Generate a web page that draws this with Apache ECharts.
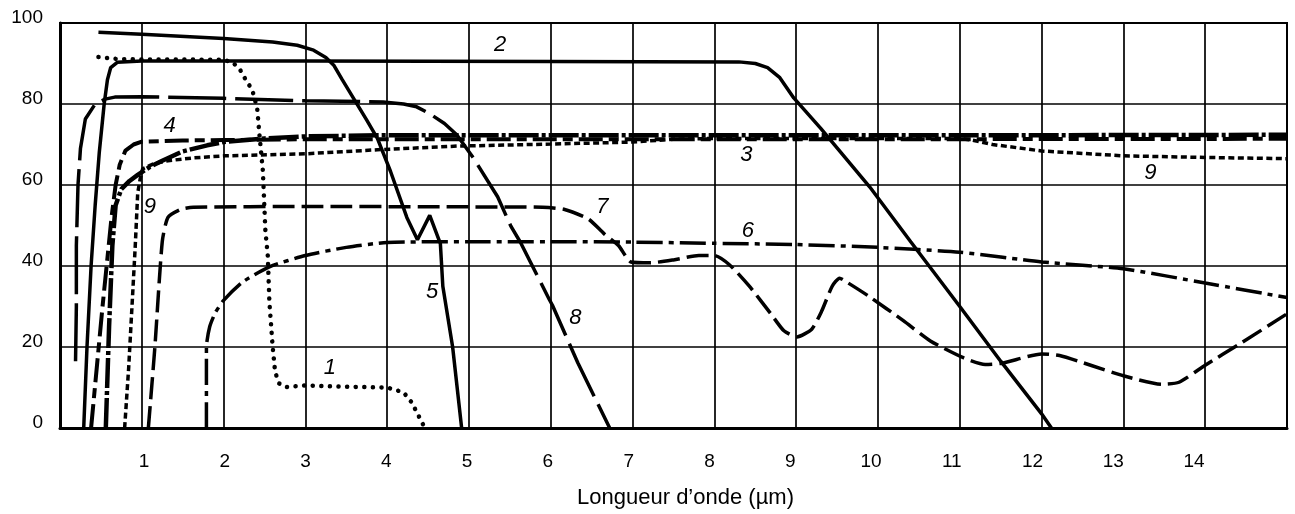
<!DOCTYPE html>
<html>
<head>
<meta charset="utf-8">
<script src="https://cdn.jsdelivr.net/npm/echarts@6/dist/echarts.min.js"></script>
<style>html,body{margin:0;padding:0;background:#fff}#c{width:1295px;height:514px}</style>
</head>
<body>
<div id="c"></div>
<script>
// ---- data ----
const xTickLabels = [1,2,3,4,5,6,7,8,9,10,11,12,13,14];
const axisTitle = 'Longueur d’onde (µm)';

const curve1 = [[0.47,91.6],[0.7,91.1],[1.0,91.0],[1.5,91.0],[2.0,90.9],[2.11,90.3],[2.2,88.5],[2.27,86],[2.35,83.5],[2.41,79],[2.44,72],[2.48,63.5],[2.51,49],[2.54,42.5],[2.56,31],[2.6,20],[2.63,13.8],[2.68,11],[2.76,10.1],[3.0,10.5],[3.5,10.2],[4.0,10.0],[4.2,8.8],[4.3,6.3],[4.46,0]];
const curve2 = [[0.29,0],[0.33,20],[0.38,40],[0.43,55],[0.48,68],[0.54,80],[0.58,86],[0.62,89],[0.7,90.3],[1,90.6],[3,90.6],[6,90.5],[8.3,90.4],[8.5,90],[8.65,89],[8.8,86.5],[8.97,81.5],[9.3,74],[9.9,59.5],[10.4,46],[11.0,30],[11.5,16.5],[12.0,3.5],[12.12,0]];
const curve3 = [[0.56,0],[0.6,25],[0.64,45],[0.68,55],[0.75,59],[0.85,61],[0.95,62.5],[1.1,64.5],[1.25,66],[1.5,68.3],[1.8,69.8],[2.0,70.6],[2.5,71.5],[3,72],[4,72.3],[6,72.3],[8,72.3],[10,72.3],[12,72.3],[15,72.4]];
const curve4 = [[0.38,0],[0.45,15],[0.52,30],[0.58,42],[0.63,52],[0.68,60],[0.73,65],[0.8,68.5],[0.9,70],[1.0,70.7],[1.5,71],[2,71.1],[3,71.3],[4,71.3],[6,71.3],[10,71.3],[15,71.4]];
const curve5 = [[0.47,97.7],[1,97.2],[2,96.2],[2.6,95.3],[2.9,94.5],[3.1,93.3],[3.25,91.5],[3.35,89.5],[3.45,86],[3.6,81],[3.75,76],[3.88,71.5],[4.04,63.4],[4.24,52],[4.37,46.5],[4.52,52.5],[4.65,45.5],[4.68,35],[4.8,20],[4.91,0]];
const curve6 = [[1.79,0],[1.79,20],[1.83,25],[1.9,28.5],[2.0,31.5],[2.23,36],[2.56,39.8],[3.0,42.6],[3.5,44.6],[4,45.8],[5,46],[6,46],[7,45.9],[8,45.6],[9,45.3],[10,44.6],[11,43.4],[12,41],[13,39.3],[14,35.8],[15,32.2]];
const curve7 = [[1.08,0],[1.16,20],[1.25,46],[1.32,52],[1.48,54],[1.63,54.5],[3,54.7],[5,54.6],[5.9,54.5],[6.16,54],[6.46,51.6],[6.65,48],[6.83,45],[6.98,41],[7.22,40.8],[7.5,41.5],[7.81,42.6],[8.0,42.6],[8.19,40.2],[8.44,34.7],[8.69,28.2],[8.85,24],[9.01,22.5],[9.19,24.4],[9.31,28.8],[9.44,35],[9.53,37],[9.62,36],[9.89,32.5],[10.31,26.5],[10.64,21.5],[11.05,17.3],[11.31,15.7],[11.52,16],[12.0,18.3],[12.22,17.9],[12.6,15.5],[13.0,12.9],[13.47,10.8],[13.68,11.3],[14.0,15.5],[14.44,21],[15,28.2]];
const curve8 = [[0.19,16.5],[0.2,30],[0.2,45],[0.22,60],[0.25,69],[0.31,76.3],[0.43,80],[0.55,81.2],[0.67,81.7],[1,81.8],[2,81.4],[3,80.8],[3.95,80.5],[4.2,80],[4.36,79.3],[4.52,77.6],[4.7,75.2],[4.85,72.4],[5.05,66.8],[5.35,57.1],[5.51,49.9],[5.63,45.8],[5.98,31.8],[6.02,30.3],[6.33,16.1],[6.72,0]];
const curve9 = [[0.79,0],[0.84,15],[0.88,30],[0.92,45],[0.95,58],[0.98,61.5],[1.01,64],[1.15,65.3],[1.32,66],[1.64,66.7],[2.02,67.2],[3,67.7],[3.88,68.7],[4.85,69.6],[6,70.1],[7,70.6],[7.5,71.3],[8,71.5],[11,71.5],[11.15,71.1],[11.4,70],[12,68.4],[13,67.2],[14,66.8],[15,66.5]];

const curveTexts = ['1','2','3','4','5','6','7','8','9','9'];
const curveTextAt = [[3.3,14.9],[5.38,94.6],[8.39,67.5],[1.34,74.5],[4.55,33.5],[8.41,48.7],[6.63,54.7],[6.3,27.2],[1.1,54.7],[13.33,63.1]];

// ---- styles ----
const FONT = '"Liberation Sans", Arial, sans-serif';
const curves = [
  {data: curve1, ls: {width: 4.5, type: [0.1, 8.5], cap: 'round'}},
  {data: curve2, ls: {width: 3.5, type: 'solid'}},
  {data: curve3, ls: {width: 4.5, type: [30, 3, 4, 3]}},
  {data: curve4, ls: {width: 4, type: [24, 6, 10, 6]}},
  {data: curve5, ls: {width: 3.5, type: 'solid'}},
  {data: curve6, ls: {width: 3.5, type: [26, 6, 5, 6]}, smooth: 0.2},
  {data: curve7, ls: {width: 3.5, type: [22, 7]}, smooth: 0.2},
  {data: curve8, ls: {width: 3.5, type: [58, 9]}},
  {data: curve9, ls: {width: 3.5, type: [6, 3.5]}}
];

const series = curves.map(c => ({
  type: 'line',
  data: c.data,
  xAxisIndex: 0, yAxisIndex: 0,
  symbol: 'none', showSymbol: false,
  smooth: c.smooth || false,
  silent: true,
  lineStyle: Object.assign({color: '#000'}, c.ls)
}));
series.push({
  type: 'scatter',
  xAxisIndex: 0, yAxisIndex: 0,
  symbolSize: 0,
  silent: true,
  itemStyle: {color: '#000', opacity: 1},
  data: curveTextAt.map((p, i) => ({value: p, name: curveTexts[i]})),
  label: {show: true, position: 'inside', formatter: '{b}', fontSize: 22, fontStyle: 'italic', color: '#000',
          opacity: 1, textBorderWidth: 0, textBorderColor: 'transparent', fontFamily: FONT}
});

const chart = echarts.init(document.getElementById('c'), null, {renderer: 'canvas'});
chart.setOption({
  animation: false,
  backgroundColor: '#fff',
  grid: {left: 60, right: 8, top: 23, bottom: 81, show: true, borderColor: '#000', borderWidth: 2, containLabel: false},
  xAxis: [
    {
      type: 'value', min: 0, max: 15, interval: 1, position: 'bottom',
      axisLine: {show: true, onZero: false, lineStyle: {color: '#000', width: 3}},
      axisTick: {show: false},
      axisLabel: {show: false},
      splitLine: {show: true, lineStyle: {color: '#000', width: 1.7}},
      name: axisTitle, nameLocation: 'middle', nameGap: 59,
      nameTextStyle: {fontSize: 22, color: '#000', fontFamily: FONT, padding: [0, 0, 0, 24]}
    },
    {
      type: 'value', min: -0.04, max: 15.15, position: 'bottom',
      axisLine: {show: false}, axisTick: {show: false}, splitLine: {show: false},
      axisLabel: {customValues: xTickLabels, fontSize: 19, color: '#000', margin: 24, fontFamily: FONT}
    }
  ],
  yAxis: {
    type: 'value', min: 0, max: 100, interval: 20,
    axisLine: {show: true, onZero: false, lineStyle: {color: '#000', width: 3}},
    axisTick: {show: false},
    splitLine: {show: true, lineStyle: {color: '#000', width: 1.7}},
    axisLabel: {fontSize: 19, color: '#000', margin: 17, verticalAlign: 'bottom', lineHeight: 11, fontFamily: FONT}
  },
  series: series
});
</script>
</body>
</html>
